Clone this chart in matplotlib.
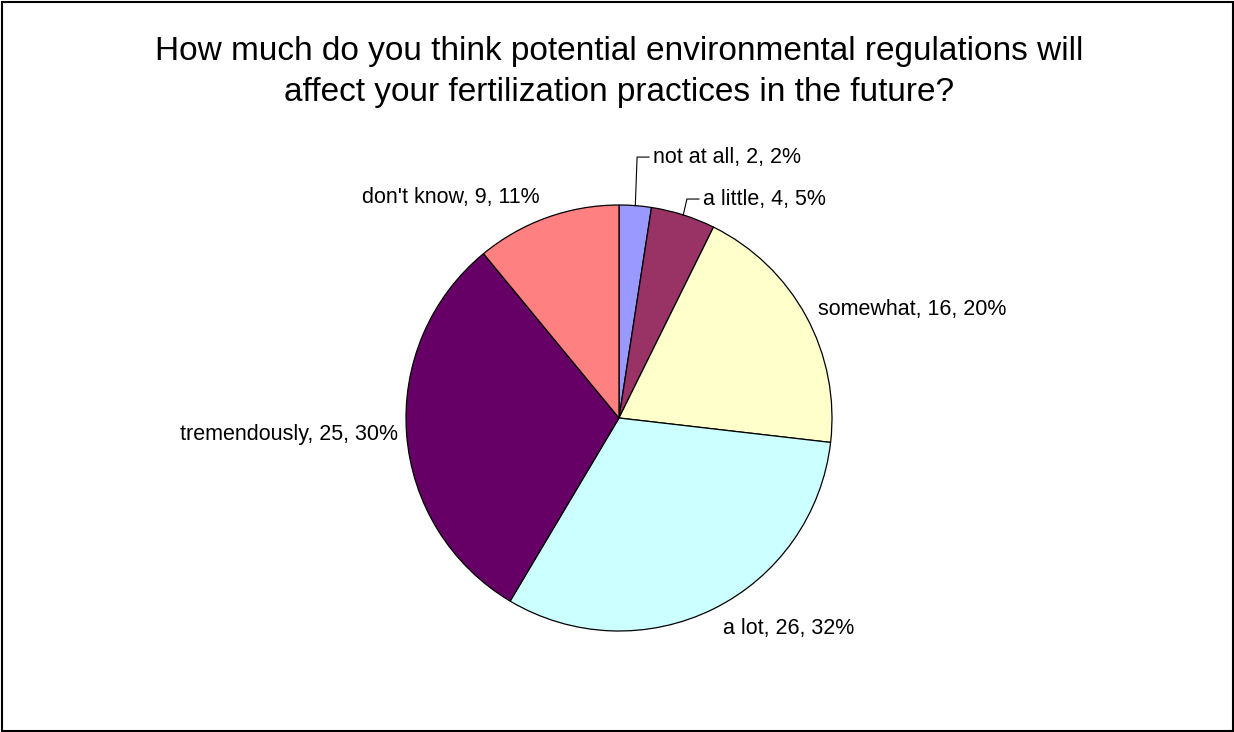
import numpy as np
import matplotlib
matplotlib.use("Agg")
import matplotlib.pyplot as plt
from matplotlib.patches import Rectangle

categories = ["not at all", "a little", "somewhat", "a lot", "tremendously", "don't know"]
counts = [2, 4, 16, 26, 25, 9]
colors = ["#9999FF", "#993366", "#FFFFCC", "#CCFFFF", "#660066", "#FF8080"]
title = "How much do you think potential environmental regulations will\naffect your fertilization practices in the future?"

W, H = 1234, 732
DPI = 100
fig = plt.figure(figsize=(W / DPI, H / DPI), dpi=DPI)
plt.rcParams['font.family'] = ['Liberation Sans', 'DejaVu Sans']

cx, cy, R = 619, 418, 213  # pixel center & radius
ax = fig.add_axes([0, 0, 1, 1])

wedges, _ = ax.pie(counts, colors=colors, startangle=90, counterclock=False,
                   radius=1, wedgeprops=dict(edgecolor="black", linewidth=0.9))
ax.set_aspect("auto")
ax.set_xlim(-cx / R, (W - cx) / R)
ax.set_ylim(-(H - cy) / R, cy / R)
ax.axis("off")

total = sum(counts)
pcts = [round(c / total * 100) for c in counts]
labels = [f"{n}, {c}, {p}%" for n, c, p in zip(categories, counts, pcts)]

FS = 15.5
# leader-line labels (small slices): text anchors in radius units
leader_pos = {0: (0.160, 1.225), 1: (0.394, 1.028)}
radial = {2: 1.065, 3: 1.105, 4: 1.04, 5: 1.1}
px = 1.0 / R
for i, w in enumerate(wedges):
    mid = np.deg2rad((w.theta1 + w.theta2) / 2)
    ex, ey = np.cos(mid), np.sin(mid)
    if i in leader_pos:
        tx, ty = leader_pos[i]
        ax.plot([ex, tx - 16 * px, tx - 4 * px], [ey, ty, ty], color="black", lw=0.8)
        ax.text(tx, ty, labels[i], ha="left", va="center", fontsize=FS)
    else:
        r = radial[i]
        ax.text(ex * r, ey * r, labels[i], ha="left" if ex > 0 else "right",
                va="center", fontsize=FS)

fig.text(619 / W, 1 - 72 / H, title, ha="center", va="center", fontsize=24,
         linespacing=1.44)

fig.patches.append(Rectangle((1.5 / W, 1.5 / H), (W - 3) / W, (H - 3) / H,
                             transform=fig.transFigure, fill=False,
                             edgecolor="black", linewidth=1.5))

fig.savefig("out.png", dpi=DPI)
